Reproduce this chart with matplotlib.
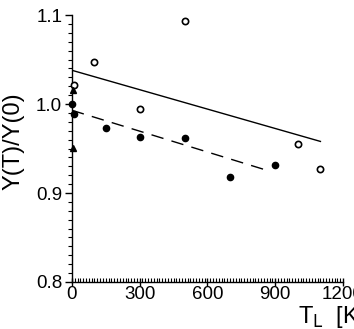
import matplotlib
matplotlib.use("Agg")
import matplotlib.pyplot as plt
from matplotlib.ticker import MultipleLocator

plt.rcParams["font.family"] = ["Liberation Sans", "DejaVu Sans"]

# ── Data ──────────────────────────────────────────────────────────────────
open_T   = [10, 100, 300, 500, 1000, 1100]
open_Y   = [1.022, 1.047, 0.995, 1.093, 0.955, 0.927]

filled_T = [0, 10, 150, 300, 500, 700, 900]
filled_Y = [1.000, 0.989, 0.973, 0.963, 0.962, 0.918, 0.932]

tri_T    = [5, 5]
tri_Y    = [1.016, 0.951]

solid_T  = [0, 1100]
solid_Y  = [1.038, 0.958]

dash_T   = [0, 870]
dash_Y   = [0.993, 0.925]

# ── Plot ───────────────────────────────────────────────────────────────────
fig = plt.figure(figsize=(3.54, 3.29), dpi=100)
ax = fig.add_axes([0.203, 0.143, 0.766, 0.811])

ax.plot(solid_T, solid_Y, color="black", linewidth=1.0)
ax.plot(dash_T, dash_Y, color="black", linewidth=1.0, dashes=(9, 6))

ax.plot(open_T, open_Y, "o", markersize=4.5, markerfacecolor="white",
        markeredgecolor="black", markeredgewidth=1.2, clip_on=False, zorder=5)
ax.plot(filled_T, filled_Y, "o", markersize=4.5, color="black",
        clip_on=False, zorder=5)
ax.plot(tri_T, tri_Y, "^", markersize=4.5, color="black",
        clip_on=False, zorder=5)

ax.set_xlim(0, 1200)
ax.set_ylim(0.8, 1.1)
ax.spines["top"].set_visible(False)
ax.spines["right"].set_visible(False)
for s in ("left", "bottom"):
    ax.spines[s].set_linewidth(1.0)

ax.xaxis.set_major_locator(MultipleLocator(300))
ax.xaxis.set_minor_locator(MultipleLocator(12.5))
ax.yaxis.set_major_locator(MultipleLocator(0.1))
ax.yaxis.set_minor_locator(MultipleLocator(0.01))
ax.yaxis.set_major_formatter(plt.FuncFormatter(lambda v, p: f"{v:.1f}"))

ax.tick_params(axis="x", which="major", direction="inout", length=6, width=1,
               labelsize=13.5, pad=0)
ax.tick_params(axis="x", which="minor", direction="in", length=3, width=0.8)
ax.tick_params(axis="y", which="major", direction="out", length=5, width=1,
               labelsize=13.5, pad=2)
ax.tick_params(axis="y", which="minor", direction="out", length=3, width=0.8)

fig.text(0.037, 0.57, "Y(T)/Y(0)", rotation=90, ha="center", va="center",
         fontsize=17)
fig.text(0.843, 0.035, r"T$_\mathrm{L}$  [K]", ha="left", va="center",
         fontsize=17)

fig.savefig("out.png", dpi=100)
plt.close(fig)
